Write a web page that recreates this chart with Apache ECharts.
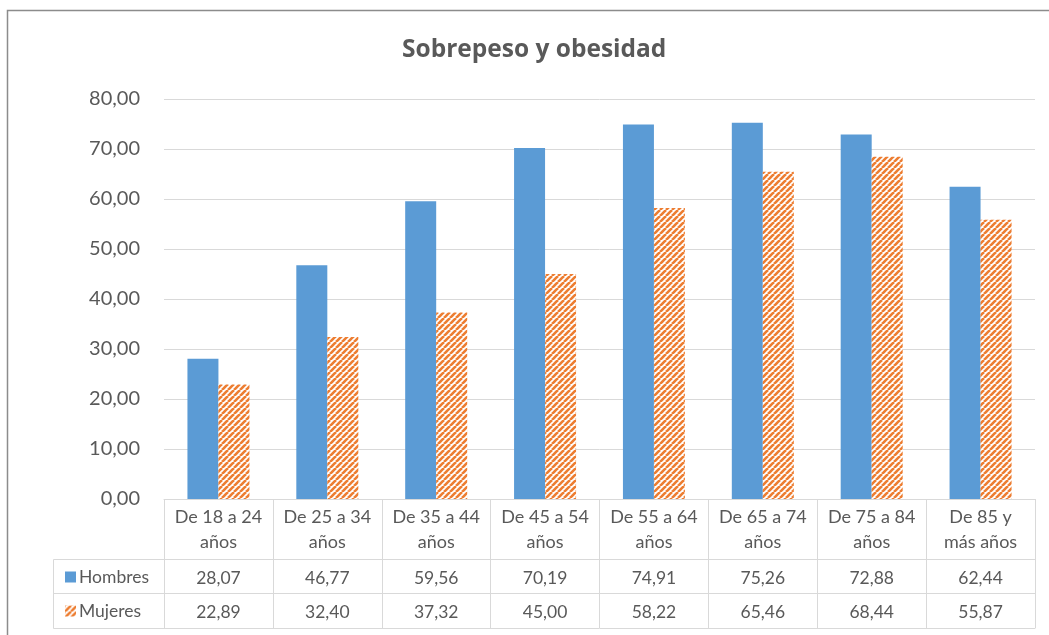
<!DOCTYPE html>
<html>
<head>
<meta charset="utf-8">
<script src="https://cdn.jsdelivr.net/npm/echarts@6/dist/echarts.min.js"></script>
<style>
  html, body { margin: 0; padding: 0; background: #fff; }
  #chart { width: 1049px; height: 635px; }
</style>
</head>
<body>
<div id="chart"></div>
<script>
// Sobrepeso y obesidad por grupo de edad y sexo (%)
const categories = ['De 18 a 24\naños', 'De 25 a 34\naños', 'De 35 a 44\naños', 'De 45 a 54\naños',
                    'De 55 a 64\naños', 'De 65 a 74\naños', 'De 75 a 84\naños', 'De 85 y\nmás años'];
const hombres = [28.07, 46.77, 59.56, 70.19, 74.91, 75.26, 72.88, 62.44];
const mujeres = [22.89, 32.40, 37.32, 45.00, 58.22, 65.46, 68.44, 55.87];
const seriesNames = ['Hombres', 'Mujeres'];

const TEXT = '#595959';
const LINE = '#D9D9D9';
const FONT = 'Lato, "Open Sans", sans-serif';
const fmt = v => v.toFixed(2).replace('.', ',');

// upward diagonal stripes, orange on white
function stripePattern() {
  const s = 6;
  const c = document.createElement('canvas');
  c.width = s; c.height = s;
  const ctx = c.getContext('2d');
  ctx.fillStyle = '#ffffff';
  ctx.fillRect(0, 0, s, s);
  ctx.strokeStyle = '#ED7D31';
  ctx.lineWidth = 2.6;
  for (let k = -1; k <= 1; k++) {
    ctx.beginPath();
    ctx.moveTo(k * s, s);
    ctx.lineTo(k * s + s, 0);
    ctx.stroke();
  }
  return { image: c, repeat: 'repeat' };
}
const stripes = stripePattern();

const chart = echarts.init(document.getElementById('chart'), null, { renderer: 'canvas' });

const GRID = { left: 164, right: 14, top: 99, bottom: 136 };
const ROW_H = 34, HEAD_H = 60;

function tableAxis(offset, values) {
  return {
    type: 'category',
    gridIndex: 0,
    position: 'bottom',
    offset: offset,
    data: categories,
    axisLine: { show: true, lineStyle: { color: LINE, width: 1 } },
    axisTick: { show: false },
    axisLabel: values ? {
      show: true, interval: 0, margin: 10,
      color: TEXT, fontSize: 17.5, fontFamily: FONT,
      formatter: (v, i) => fmt(values[i])
    } : { show: false },
    splitLine: { show: false }
  };
}

chart.setOption({
  animation: false,
  backgroundColor: '#fff',
  textStyle: { fontFamily: FONT },
  title: {
    text: 'Sobrepeso y obesidad',
    left: 397,
    top: 33,
    padding: 5,
    textStyle: { color: TEXT, fontSize: 24.5, fontWeight: 'bold', fontFamily: '"Open Sans", Lato, sans-serif' }
  },
  legend: {
    orient: 'vertical',
    left: 60,
    top: 562,
    itemWidth: 11,
    itemHeight: 11,
    itemGap: 14,
    icon: 'rect',
    data: seriesNames,
    textStyle: { color: TEXT, fontSize: 17.5, fontFamily: FONT, lineHeight: 20, padding: [0, 0, 0, -2] }
  },
  grid: GRID,
  xAxis: [
    {
      type: 'category',
      data: categories,
      axisLine: { show: true, lineStyle: { color: LINE, width: 1 } },
      axisTick: { show: true, length: HEAD_H + 2 * ROW_H + 1, lineStyle: { color: LINE, width: 1 } },
      axisLabel: {
        interval: 0, margin: 6, color: TEXT, fontSize: 18, lineHeight: 25, fontFamily: FONT
      },
      splitLine: { show: false }
    },
    tableAxis(HEAD_H, hombres),
    tableAxis(HEAD_H + ROW_H, mujeres),
    tableAxis(HEAD_H + 2 * ROW_H + 1, null)
  ],
  yAxis: {
    type: 'value',
    min: 0, max: 80, interval: 10,
    axisLine: { show: false },
    axisTick: { show: false },
    axisLabel: { color: TEXT, fontSize: 20, margin: 24, fontFamily: FONT, formatter: v => fmt(v) },
    splitLine: { lineStyle: { color: LINE, width: 1 } }
  },
  series: [
    {
      name: seriesNames[0], type: 'bar', xAxisIndex: 0,
      data: hombres, barWidth: 31, barGap: '0%',
      itemStyle: { color: '#5B9BD5' }
    },
    {
      name: seriesNames[1], type: 'bar', xAxisIndex: 0,
      data: mujeres, barWidth: 31, barGap: '0%',
      itemStyle: { color: stripes }
    }
  ]
});

// outer frame and the legend column of the data table
function drawFrame() {
  const rect = chart.getModel().getComponent('grid').coordinateSystem.getRect();
  const x0 = rect.x, yAxisLine = rect.y + rect.height;
  const xl = 53;
  const rows = [yAxisLine + HEAD_H, yAxisLine + HEAD_H + ROW_H, yAxisLine + HEAD_H + 2 * ROW_H + 1];
  const elements = [
    {
      type: 'rect', silent: true, z: -1,
      shape: { x: 7.5, y: 10.5, width: 1200, height: 800 },
      style: { fill: null, stroke: '#8C8C8C', lineWidth: 1.5 }
    },
    {
      type: 'polyline', silent: true,
      shape: { points: [[x0, rows[0] + 0.5], [xl + 0.5, rows[0] + 0.5], [xl + 0.5, rows[2] + 0.5], [x0, rows[2] + 0.5]] },
      style: { fill: null, stroke: LINE, lineWidth: 1 }
    },
    {
      type: 'line', silent: true,
      shape: { x1: xl, y1: rows[1] + 0.5, x2: x0, y2: rows[1] + 0.5 },
      style: { stroke: LINE, lineWidth: 1 }
    }
  ];
  chart.setOption({ graphic: { elements } });
}
drawFrame();
</script>
</body>
</html>
